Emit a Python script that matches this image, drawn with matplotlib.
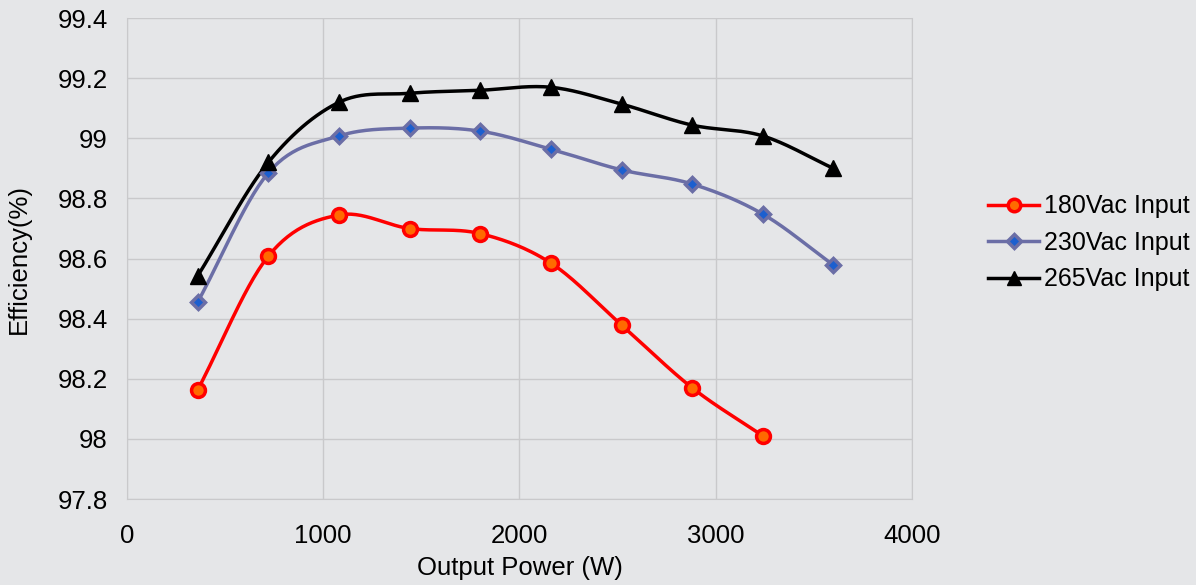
import matplotlib
matplotlib.use("Agg")
import matplotlib.pyplot as plt
import numpy as np

plt.rcParams['font.family'] = ['Liberation Sans', 'DejaVu Sans']

power = [360, 720, 1080, 1440, 1800, 2160, 2520, 2880, 3240, 3600]
eff_180 = [98.163, 98.608, 98.745, 98.70, 98.683, 98.585, 98.379, 98.17, 98.01]
eff_230 = [98.455, 98.885, 99.008, 99.034, 99.024, 98.964, 98.895, 98.848, 98.748, 98.578]
eff_265 = [98.542, 98.92, 99.12, 99.15, 99.16, 99.17, 99.114, 99.044, 99.008, 98.90]
labels = ['180Vac Input', '230Vac Input', '265Vac Input']

bg = '#e5e6e8'
grid_c = '#c9c9cb'
fs = 18.5


def smooth(x, y, n=30):
    # Catmull-Rom curve through the points, like Excel's smoothed line
    x = np.asarray(x, float)
    y = np.asarray(y, float)
    px = np.concatenate([[2 * x[0] - x[1]], x, [2 * x[-1] - x[-2]]])
    py = np.concatenate([[2 * y[0] - y[1]], y, [2 * y[-1] - y[-2]]])
    xs, ys = [], []
    t = np.linspace(0, 1, n)
    for i in range(1, len(px) - 2):
        for p, out in ((px, xs), (py, ys)):
            p0, p1, p2, p3 = p[i - 1], p[i], p[i + 1], p[i + 2]
            out.append(0.5 * (2 * p1 + (-p0 + p2) * t
                              + (2 * p0 - 5 * p1 + 4 * p2 - p3) * t ** 2
                              + (-p0 + 3 * p1 - 3 * p2 + p3) * t ** 3))
    return np.concatenate(xs), np.concatenate(ys)


fig = plt.figure(figsize=(11.96, 5.85), dpi=100, facecolor=bg)
ax = fig.add_axes([0.1062, 0.147, 0.6563, 0.822])
ax.set_facecolor(bg)

styles = [
    dict(color='#ff0000', marker='o', mfc='#ff6a00', mec='#ff0000', ms=10, mew=2.5),
    dict(color='#6b6ea6', marker='D', mfc='#1c5fcf', mec='#6b6ea6', ms=7.5, mew=2.5),
    dict(color='#000000', marker='^', mfc='#000000', mec='#000000', ms=11, mew=1),
]

for ys, lab, st in zip([eff_180, eff_230, eff_265], labels, styles):
    xv = power[:len(ys)]
    sx, sy = smooth(xv, ys)
    ax.plot(sx, sy, color=st['color'], lw=2.5, zorder=3)
    ax.plot(xv, ys, ls='none', marker=st['marker'], mfc=st['mfc'], mec=st['mec'],
            ms=st['ms'], mew=st['mew'], zorder=4)
    ax.plot([], [], color=st['color'], lw=2.5, marker=st['marker'], mfc=st['mfc'],
            mec=st['mec'], ms=st['ms'] * 0.9, mew=st['mew'], label=lab)

ax.set_xlim(0, 4000)
ax.set_ylim(97.8, 99.4)
ax.set_xticks([0, 1000, 2000, 3000, 4000])
ax.set_yticks([97.8, 98, 98.2, 98.4, 98.6, 98.8, 99, 99.2, 99.4])
ax.set_yticklabels(['97.8', '98', '98.2', '98.4', '98.6', '98.8', '99', '99.2', '99.4'])
ax.grid(True, color=grid_c, lw=1)
ax.set_axisbelow(True)
for s in ax.spines.values():
    s.set_color(grid_c)
ax.spines['top'].set_visible(False)
ax.tick_params(length=0, labelsize=fs)
ax.tick_params(axis='y', pad=14)
ax.tick_params(axis='x', pad=18)
ax.set_xlabel('Output Power (W)', fontsize=fs, labelpad=6)
ax.set_ylabel('Efficiency(%)', fontsize=fs, labelpad=19)

leg = fig.legend(loc='center left', bbox_to_anchor=(0.826, 0.585), frameon=False,
                 fontsize=18, handlelength=2.05, handletextpad=0.2, labelspacing=0.5,
                 borderpad=0, borderaxespad=0)

fig.savefig('out.png', dpi=100, facecolor=bg)
